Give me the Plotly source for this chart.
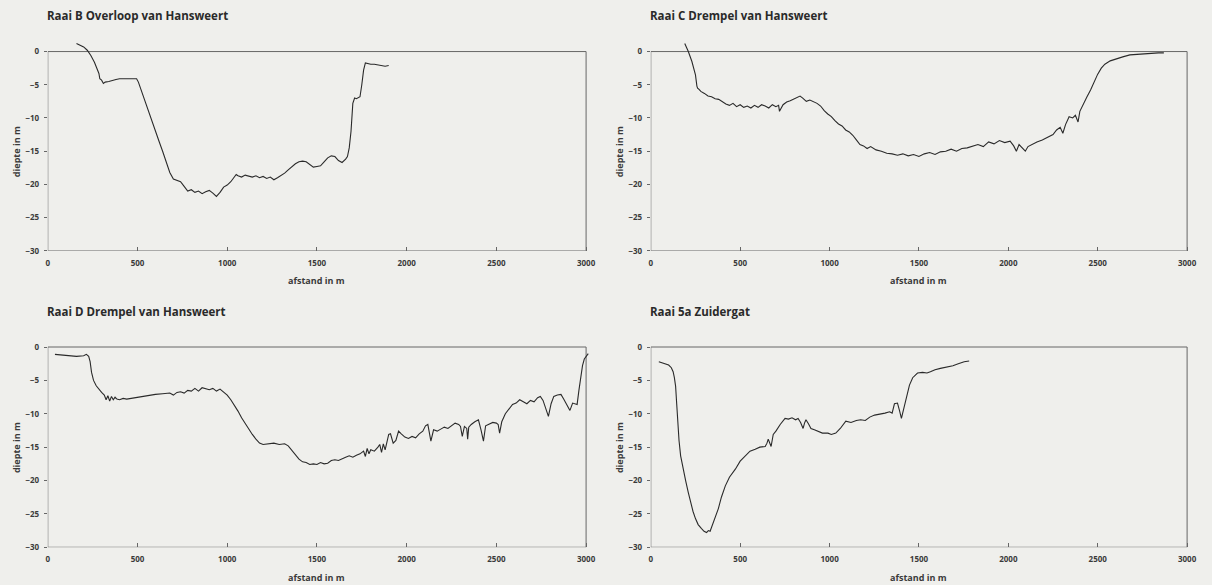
import plotly.graph_objects as go

titles = ["Raai B Overloop van Hansweert", "Raai C Drempel van Hansweert",
          "Raai D Drempel van Hansweert", "Raai 5a Zuidergat"]
x_ticks = [0, 500, 1000, 1500, 2000, 2500, 3000]
y_ticks = [0, -5, -10, -15, -20, -25, -30]
x_label = "afstand in m"
y_label = "diepte in m"

x_b = [160, 180, 200, 220, 240, 260, 275, 285, 290, 295,
       300, 310, 320, 340, 360, 380, 400, 420, 440, 460,
       480, 495, 505, 520, 540, 560, 580, 600, 620, 640,
       660, 680, 700, 720, 740, 760, 780, 800, 820, 840,
       860, 880, 900, 920, 940, 950, 960, 980, 1000, 1020,
       1040, 1050, 1060, 1080, 1100, 1120, 1140, 1160, 1180, 1200,
       1220, 1240, 1260, 1280, 1300, 1320, 1340, 1360, 1380, 1400,
       1420, 1440, 1460, 1480, 1500, 1520, 1540, 1560, 1580, 1600,
       1620, 1640, 1660, 1670, 1680, 1690, 1700, 1710, 1720, 1740,
       1750, 1760, 1770, 1780, 1800, 1820, 1840, 1860, 1880, 1900]
y_b = [1.2, 1.0, 0.7, 0.2, -0.6, -1.6, -2.6, -3.3, -4.1, -4.2,
       -4.3, -4.8, -4.6, -4.5, -4.3, -4.2, -4.1, -4.1, -4.0, -4.1,
       -4.0, -4.1, -4.6, -5.8, -7.3, -8.7, -10.3, -12.0, -13.5, -15.0,
       -16.6, -18.2, -19.2, -19.4, -19.6, -20.3, -21.0, -20.8, -21.2, -21.0,
       -21.4, -21.1, -20.9, -21.3, -21.8, -21.5, -21.2, -20.4, -20.1, -19.6,
       -18.8, -18.5, -18.7, -18.9, -18.6, -18.8, -18.9, -18.7, -19.0, -18.8,
       -19.1, -18.9, -19.3, -19.0, -18.7, -18.3, -17.8, -17.3, -16.9, -16.6,
       -16.5, -16.6, -17.0, -17.4, -17.3, -17.2, -16.6, -16.0, -15.7, -15.8,
       -16.4, -16.7, -16.2, -15.8, -14.5, -12.0, -7.8, -7.0, -7.1, -6.8,
       -5.0, -2.8, -1.7, -1.8, -1.9, -1.9, -2.0, -2.0, -2.2, -2.1]

x_c = [190, 210, 230, 250, 258, 262, 270, 280, 300, 320,
       340, 360, 380, 400, 420, 440, 460, 480, 500, 520,
       540, 560, 580, 600, 620, 640, 660, 680, 700, 715,
       720, 740, 760, 780, 800, 820, 835, 850, 870, 890,
       910, 930, 950, 970, 990, 1010, 1030, 1050, 1070, 1090,
       1110, 1130, 1150, 1170, 1190, 1210, 1230, 1260, 1290, 1320,
       1350, 1380, 1410, 1440, 1470, 1500, 1530, 1560, 1590, 1620,
       1650, 1680, 1710, 1740, 1770, 1800, 1830, 1860, 1890, 1920,
       1950, 1980, 2010, 2030, 2045, 2060, 2080, 2095, 2110, 2130,
       2160, 2190, 2220, 2250, 2270, 2290, 2305, 2320, 2340, 2360,
       2375, 2390, 2400, 2420, 2440, 2460, 2480, 2500, 2520, 2540,
       2570, 2600, 2640, 2680, 2720, 2760, 2800, 2840, 2870]
y_c = [1.2, 0.0, -1.5, -3.5, -5.2, -5.5, -5.7, -6.0, -6.3, -6.7,
       -6.8, -7.1, -7.2, -7.6, -7.9, -8.1, -7.8, -8.3, -8.0, -8.4,
       -8.2, -8.5, -8.1, -8.4, -8.0, -8.2, -8.5, -8.0, -8.3, -8.1,
       -9.0, -8.0, -7.6, -7.4, -7.1, -6.9, -6.7, -7.0, -7.5, -7.3,
       -7.5, -7.8, -8.2, -8.9, -9.4, -9.8, -10.4, -10.9, -11.2, -11.8,
       -12.1, -12.6, -13.3, -14.0, -14.2, -14.6, -14.3, -14.8, -15.0, -15.3,
       -15.4, -15.6, -15.4, -15.7, -15.5, -15.8, -15.4, -15.2, -15.5, -15.1,
       -15.0, -14.7, -15.0, -14.6, -14.5, -14.2, -14.0, -14.3, -13.6, -13.9,
       -13.4, -13.7, -13.5, -14.2, -15.0, -14.0, -14.5, -15.0, -14.3, -14.0,
       -13.6, -13.3, -12.9, -12.5, -11.8, -11.4, -12.3, -11.0, -9.8, -10.0,
       -9.6, -10.6, -9.0, -7.8, -6.8, -5.8, -4.6, -3.4, -2.5, -1.9,
       -1.4, -1.1, -0.8, -0.5, -0.4, -0.3, -0.3, -0.2, -0.2]

x_d = [40, 80, 120, 160, 200, 215, 228, 236, 244, 255,
       270, 285, 300, 315, 325, 335, 345, 355, 365, 375,
       385, 400, 420, 440, 460, 480, 520, 560, 600, 640,
       680, 700, 720, 740, 760, 780, 800, 820, 840, 860,
       880, 900, 920, 940, 960, 980, 1000, 1020, 1040, 1060,
       1080, 1100, 1120, 1140, 1160, 1180, 1200, 1230, 1260, 1290,
       1320, 1340, 1360, 1380, 1400, 1420, 1440, 1460, 1480, 1500,
       1520, 1540, 1560, 1580, 1600, 1620, 1640, 1660, 1680, 1700,
       1720, 1740, 1760, 1770, 1780, 1790, 1800, 1820, 1840, 1850,
       1860, 1870, 1880, 1890, 1900, 1910, 1925, 1940, 1955, 1970,
       1990, 2010, 2030, 2050, 2070, 2090, 2105, 2118, 2126, 2135,
       2150, 2170, 2190, 2210, 2230, 2250, 2270, 2290, 2300, 2310,
       2322, 2335, 2340, 2346, 2360, 2380, 2400, 2415, 2428, 2440,
       2460, 2480, 2500, 2510, 2518, 2530, 2550, 2570, 2590, 2610,
       2630, 2650, 2670, 2690, 2710, 2730, 2745, 2760, 2775, 2790,
       2805, 2820, 2840, 2860, 2875, 2895, 2910, 2925, 2940, 2950,
       2960, 2970, 2980, 2990, 3000, 3012]
y_d = [-1.1, -1.2, -1.3, -1.4, -1.3, -1.1, -1.4, -2.2, -3.8, -5.0,
       -5.8, -6.4, -6.8, -7.2, -7.9, -7.3, -8.1, -7.4, -7.9, -7.5,
       -7.8, -7.9, -7.7, -7.8, -7.7, -7.6, -7.4, -7.3, -7.1, -7.0,
       -6.9, -7.2, -6.8, -6.7, -6.9, -6.5, -6.6, -6.2, -6.6, -6.1,
       -6.3, -6.4, -6.2, -6.6, -6.3, -6.8, -7.2, -7.9, -8.7, -9.6,
       -10.6, -11.5, -12.2, -13.1, -13.8, -14.4, -14.6, -14.5, -14.4, -14.6,
       -14.5, -14.8, -15.5, -16.2, -16.8, -17.2, -17.3, -17.6, -17.5, -17.6,
       -17.3, -17.5, -17.4, -17.0, -16.9, -17.0, -16.7, -16.5, -16.3, -16.5,
       -16.2, -16.0, -15.6, -16.4, -15.2, -16.0, -15.4, -15.6, -15.0, -14.6,
       -15.8, -14.5, -15.4, -14.2, -13.1, -13.0, -14.4, -14.0, -12.6, -13.0,
       -13.5, -13.7, -13.4, -13.6, -13.0, -12.6, -11.8, -11.6, -13.0, -14.1,
       -12.4, -12.6, -12.3, -12.0, -12.2, -11.8, -11.4, -11.6, -11.9, -13.4,
       -11.9, -12.2, -13.8, -12.0, -11.6, -11.2, -10.9, -12.5, -14.1, -11.8,
       -11.5, -11.3, -11.4, -11.6, -12.9, -11.2, -10.0, -9.2, -8.6, -8.4,
       -7.9, -8.2, -8.5, -8.0, -8.2, -7.6, -7.4, -8.0, -9.2, -10.4,
       -8.5, -7.4, -7.2, -7.1, -7.8, -8.9, -9.5, -8.4, -8.5, -8.6,
       -6.5, -4.5, -2.8, -1.8, -1.4, -1.0]

x_e = [45, 70, 100, 115, 125, 132, 139, 145, 150, 158,
       167, 180, 195, 210, 223, 236, 250, 265, 284, 298,
       312, 322, 332, 345, 360, 378, 395, 417, 440, 473,
       500, 529, 555, 584, 610, 640, 650, 657, 665, 673,
       685, 700, 724, 740, 751, 770, 790, 810, 824, 838,
       852, 860, 868, 882, 896, 915, 935, 960, 991, 1010,
       1035, 1060, 1091, 1120, 1150, 1174, 1200, 1225, 1252, 1280,
       1310, 1336, 1350, 1363, 1380, 1391, 1402, 1410, 1419, 1430,
       1447, 1465, 1480, 1492, 1520, 1545, 1564, 1590, 1620, 1659,
       1690, 1720, 1753, 1781]
y_e = [-2.2, -2.4, -2.7, -3.1, -3.7, -4.6, -5.9, -8.5, -11.4, -14.0,
       -16.3, -18.3, -20.0, -21.8, -23.3, -24.6, -25.7, -26.6, -27.2, -27.6,
       -27.8, -27.5, -27.6, -26.7, -25.6, -24.2, -22.5, -20.8, -19.5, -18.3,
       -17.1, -16.3, -15.6, -15.3, -15.0, -14.9, -14.4, -13.8, -14.3, -14.9,
       -13.1, -12.6, -11.6, -11.0, -10.7, -10.8, -10.6, -10.9, -10.7, -11.3,
       -12.2, -11.4, -10.9, -11.5, -12.2, -12.4, -12.6, -12.9, -12.9, -13.1,
       -12.9, -12.2, -11.1, -11.3, -11.0, -10.9, -11.0, -10.5, -10.2, -10.1,
       -9.9, -9.7, -9.9, -8.5, -8.4, -9.5, -10.7, -9.8, -8.9, -7.5,
       -5.7, -4.6, -4.2, -3.9, -3.8, -3.9, -3.7, -3.4, -3.2, -3.0,
       -2.8, -2.5, -2.2, -2.1]

series = [(x_b, y_b), (x_c, y_c), (x_d, y_d), (x_e, y_e)]

W, H = 1212, 585
# plot boxes in pixels (for the 0..3000 x -30..0 frame): (left, right, top, bottom)
boxes = [(46, 587, 52, 253), (652, 1191, 52, 253),
         (46, 587, 350, 552), (652, 1191, 350, 552)]
Y_TOP = 2.0     # extra headroom above 0 so the profile can cross the frame
X_RIGHT = 3030  # extra room right of 3000

BG = "#efefec"
AX = "#666666"
TXT = "#3a3a3a"
FONT = "Open Sans"

fig = go.Figure()
annotations = []
shapes = []
for i, ((xs, ys), (l, r, t, b)) in enumerate(zip(series, boxes)):
    n = "" if i == 0 else str(i + 1)
    ppy = (b - t) / 30.0
    ppx = (r - l) / 3000.0
    top_px = t - Y_TOP * ppy
    right_px = r + (X_RIGHT - 3000) * ppx
    fig.add_trace(go.Scatter(x=xs, y=ys, mode="lines",
                             line=dict(color="#2a2a2a", width=1.1),
                             xaxis="x" + n, yaxis="y" + n, showlegend=False,
                             hoverinfo="skip"))
    fig.layout["xaxis" + n] = dict(
        domain=[l / W, right_px / W], range=[0, X_RIGHT], anchor="y" + n,
        tickvals=x_ticks, ticks="inside", ticklen=4, tickcolor=AX,
        showline=False, showgrid=False, zeroline=False, ticklabelstandoff=6,
        tickfont=dict(family=FONT, size=8, color=TXT, weight=700))
    fig.layout["yaxis" + n] = dict(
        domain=[1 - b / H, 1 - top_px / H], range=[-30, Y_TOP], anchor="x" + n,
        tickvals=y_ticks, ticks="outside", ticklen=3, tickcolor=AX,
        showline=False, showgrid=False, zeroline=False, ticklabelstandoff=3,
        tickfont=dict(family=FONT, size=8, color=TXT, weight=700))
    shapes.append(dict(type="rect", xref="x" + n, yref="y" + n,
                       x0=0, x1=3000, y0=-30, y1=0, layer="below",
                       line=dict(color=AX, width=1), fillcolor="rgba(0,0,0,0)"))
    annotations.append(dict(text=titles[i], xref="paper", yref="paper",
                            x=l / W, y=1 - (t - 36) / H, xanchor="left",
                            yanchor="middle", showarrow=False, xshift=-3,
                            font=dict(family=FONT, size=11.5, color="#2a2a2a", weight=700)))
    annotations.append(dict(text=x_label, xref="paper", yref="paper",
                            x=(l + r) / 2 / W, y=1 - (b + 30) / H,
                            xanchor="center", yanchor="middle", showarrow=False,
                            font=dict(family=FONT, size=9, color=TXT, weight=700)))
    annotations.append(dict(text=y_label, xref="paper", yref="paper",
                            x=(l - 32) / W, y=1 - (t + b) / 2 / H,
                            xanchor="center", yanchor="middle", textangle=-90,
                            showarrow=False,
                            font=dict(family=FONT, size=9, color=TXT, weight=700)))

fig.update_layout(width=W, height=H, margin=dict(l=0, r=0, t=0, b=0),
                  paper_bgcolor=BG, plot_bgcolor=BG,
                  annotations=annotations, shapes=shapes)
fig.write_html("out.html")
